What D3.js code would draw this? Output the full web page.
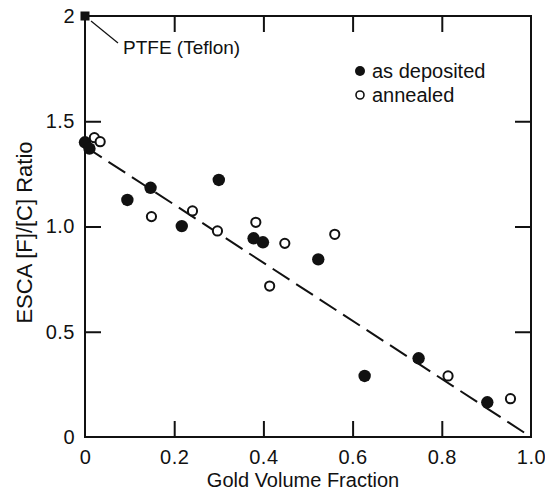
<!DOCTYPE html>
<html>
<head>
<meta charset="utf-8">
<script src="https://cdn.jsdelivr.net/npm/d3@7"></script>
<style>
  html, body { margin: 0; padding: 0; background: #fff; }
  svg { display: block; font-family: "Liberation Sans", Arial, Helvetica, sans-serif; }
</style>
</head>
<body>
<svg id="chart" width="545" height="493"></svg>
<script>
(function () {
    const svg = d3.select("#chart");

    // Data
    const depositedX = [0.00, 0.01, 0.095, 0.147, 0.217, 0.300, 0.378, 0.399, 0.523, 0.627, 0.748, 0.902];
    const depositedY = [1.40, 1.37, 1.126, 1.184, 1.002, 1.221, 0.944, 0.925, 0.844, 0.290, 0.374, 0.165];
    const annealedX  = [0.021, 0.034, 0.149, 0.241, 0.297, 0.383, 0.414, 0.448, 0.560, 0.814, 0.954];
    const annealedY  = [1.422, 1.403, 1.047, 1.074, 0.979, 1.020, 0.717, 0.920, 0.963, 0.290, 0.182];
    const ptfe       = [0, 2];
    const fitLine    = [[0, 1.38], [1.0, 0]];

    const xTicks = [0, 0.2, 0.4, 0.6, 0.8, 1.0];
    const xTickLabels = ["0", "0.2", "0.4", "0.6", "0.8", "1.0"];
    const yTicks = [0, 0.5, 1.0, 1.5, 2];
    const yTickLabels = ["0", "0.5", "1.0", "1.5", "2"];

    const x = d3.scaleLinear().domain([0, 1]).range([85, 531]);
    const y = d3.scaleLinear().domain([0, 2]).range([437, 16]);

    const TICK = 16;
    const FONT = "20px";

    // frame
    svg.append("rect")
        .attr("x", x(0)).attr("y", y(2))
        .attr("width", x(1) - x(0)).attr("height", y(0) - y(2))
        .attr("fill", "none").attr("stroke", "#111").attr("stroke-width", 2);

    // axes with inward ticks
    const innerX = xTicks.filter(t => t > 0 && t < 1);
    const innerY = yTicks.filter(t => t > 0 && t < 2);

    const bottom = svg.append("g").attr("transform", `translate(0,${y(0)})`)
        .call(d3.axisBottom(x).tickValues(xTicks)
            .tickFormat((d, i) => xTickLabels[i]).tickSize(-TICK).tickPadding(13));
    bottom.selectAll(".tick line").filter(d => d === 0 || d === 1).remove();

    svg.append("g").attr("transform", `translate(0,${y(2)})`)
        .call(d3.axisTop(x).tickValues(innerX).tickSize(-TICK).tickFormat(""));

    const left = svg.append("g").attr("transform", `translate(${x(0)},0)`)
        .call(d3.axisLeft(y).tickValues(yTicks)
            .tickFormat((d, i) => yTickLabels[i]).tickSize(-TICK).tickPadding(10));
    left.selectAll(".tick line").filter(d => d === 0 || d === 2).remove();

    svg.append("g").attr("transform", `translate(${x(1)},0)`)
        .call(d3.axisRight(y).tickValues(innerY).tickSize(-TICK).tickFormat(""));

    svg.selectAll(".domain").remove();
    svg.selectAll(".tick line").attr("stroke", "#111").attr("stroke-width", 2);
    svg.selectAll(".tick text")
        .attr("font-family", "Liberation Sans, Arial, sans-serif")
        .attr("font-size", FONT).attr("fill", "#111")
        .attr("letter-spacing", "0.5px");

    // axis titles
    svg.append("text")
        .attr("x", (x(0) + x(1)) / 2 - 5).attr("y", 487)
        .attr("text-anchor", "middle").attr("font-size", FONT).attr("fill", "#111")
        .text("Gold Volume Fraction");
    svg.append("text")
        .attr("transform", `translate(32,${(y(0) + y(2)) / 2 + 6}) rotate(-90)`)
        .attr("text-anchor", "middle").attr("font-size", "22px").attr("fill", "#111")
        .text("ESCA [F]/[C] Ratio");

    // dashed fit line
    const line = d3.line().x(d => x(d[0])).y(d => y(d[1]));
    svg.append("path")
        .datum(fitLine)
        .attr("d", line)
        .attr("fill", "none").attr("stroke", "#111").attr("stroke-width", 2)
        .attr("stroke-dasharray", "20,8");

    // points
    svg.append("g").selectAll("circle")
        .data(depositedX.map((d, i) => [d, depositedY[i]]))
        .join("circle")
        .attr("cx", d => x(d[0])).attr("cy", d => y(d[1]))
        .attr("r", 6.2).attr("fill", "#111");

    svg.append("g").selectAll("circle")
        .data(annealedX.map((d, i) => [d, annealedY[i]]))
        .join("circle")
        .attr("cx", d => x(d[0])).attr("cy", d => y(d[1]))
        .attr("r", 4.6).attr("fill", "#fff").attr("stroke", "#111").attr("stroke-width", 2);

    // PTFE marker and label
    svg.append("rect")
        .attr("x", x(ptfe[0]) - 4.5).attr("y", y(ptfe[1]) - 4.5)
        .attr("width", 9).attr("height", 9).attr("fill", "#111");
    svg.append("line")
        .attr("x1", x(ptfe[0]) + 6).attr("y1", y(ptfe[1]) + 5)
        .attr("x2", x(ptfe[0]) + 33).attr("y2", y(ptfe[1]) + 27)
        .attr("stroke", "#111").attr("stroke-width", 1.2);
    svg.append("text")
        .attr("x", x(ptfe[0]) + 38).attr("y", y(ptfe[1]) + 38)
        .attr("font-size", "19px").attr("fill", "#111")
        .text("PTFE (Teflon)");

    // legend
    const lg = svg.append("g").attr("transform", "translate(360,71)");
    lg.append("circle").attr("cx", 0).attr("cy", 0).attr("r", 5).attr("fill", "#111");
    lg.append("text").attr("x", 12).attr("y", 7).attr("font-size", FONT).attr("fill", "#111")
        .text("as deposited");
    lg.append("circle").attr("cx", 0).attr("cy", 24).attr("r", 4).attr("fill", "#fff")
        .attr("stroke", "#111").attr("stroke-width", 1.6);
    lg.append("text").attr("x", 12).attr("y", 31).attr("font-size", FONT).attr("fill", "#111")
        .text("annealed");
})();
</script>
</body>
</html>
